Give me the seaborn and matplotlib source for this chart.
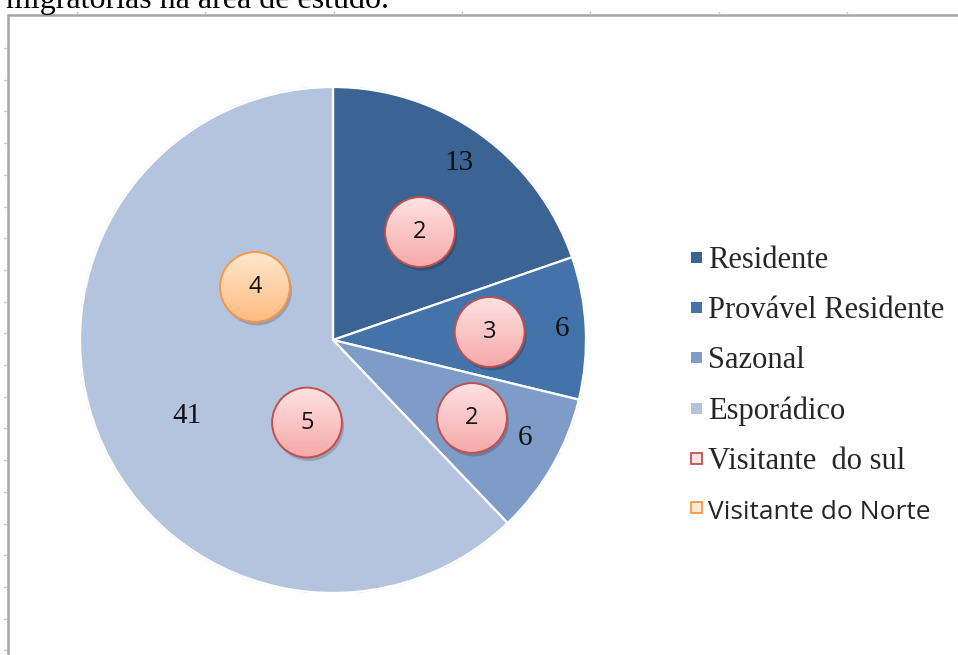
import numpy as np
import matplotlib
matplotlib.use("Agg")
import matplotlib.pyplot as plt
import seaborn as sns
from matplotlib.patches import Circle, Rectangle
from matplotlib.lines import Line2D
from matplotlib.legend_handler import HandlerPatch

sns.set_theme(style="white")
plt.rcParams['font.family'] = ['Liberation Serif', 'DejaVu Sans']

# ---- data ----
categories = ["Residente", "Provável Residente", "Sazonal", "Esporádico"]
counts = [13, 6, 6, 41]
slice_colors = ["#3B6393", "#4473AA", "#7F9CC9", "#B5C4DE"]
value_label_radius = [0.86, 0.905, 0.85, 0.65]
value_label_shift = [0.0, 0.0, 3.0, 5.6]   # degrees, within slice

visitor_types = ["Visitante  do sul", "Visitante do Norte"]
visitor_category = ["Residente", "Provável Residente", "Sazonal", "Esporádico", "Esporádico"]
visitor_type = [0, 0, 0, 0, 1]
visitor_counts = [2, 3, 2, 5, 4]
badge_radius_frac = [0.548, 0.62, 0.63, 0.342, 0.373]
badge_angle_shift = [-3.4, 0.2, 0.7, 50.7, -56.0]

badge_fill = [("#FFE2E2", "#F6A9A9"), ("#FFE8CF", "#FDBB80")]
badge_edge = ["#C0504D", "#F79646"]

title_text = "migratórias na área de estudo."

# ---- figure ----
W, H = 958, 655
fig = plt.figure(figsize=(W / 100, H / 100), dpi=100)

cx, cy, R = 333, 340, 253
ax = fig.add_axes([(cx - R) / W, (H - cy - R) / H, 2 * R / W, 2 * R / H])

wedges, _ = ax.pie(counts, colors=slice_colors, startangle=90, counterclock=False,
                   radius=1.0,
                   wedgeprops=dict(edgecolor="white", linewidth=1.6))
ax.set_aspect("equal")
ax.axis("off")

ring = Circle((0, 0), 1.0, fill=False, edgecolor="#D9DDE4", linewidth=1.6, zorder=0.5)
ax.add_patch(ring)
for w in wedges:
    w.set_clip_on(False)

def mid_angle(w):
    return 0.5 * (w.theta1 + w.theta2)

# value labels
for w, v, r, s in zip(wedges, counts, value_label_radius, value_label_shift):
    a = np.deg2rad(mid_angle(w) + s)
    ax.text(r * np.cos(a), r * np.sin(a), str(v), ha="center", va="center",
            fontsize=21, color="#111111", family=["Liberation Serif"])

# badges
br = 0.138
grad = np.linspace(0, 1, 256).reshape(-1, 1)
for cat, t, n, rf, sh in zip(visitor_category, visitor_type, visitor_counts,
                             badge_radius_frac, badge_angle_shift):
    w = wedges[categories.index(cat)]
    a = np.deg2rad(mid_angle(w) + sh)
    bx, by = rf * np.cos(a), rf * np.sin(a)
    ax.add_patch(Circle((bx + 0.008, by - 0.014), br, facecolor="#000000",
                        alpha=0.18, edgecolor="none", zorder=3))
    c_top = np.array(matplotlib.colors.to_rgb(badge_fill[t][0]))
    c_bot = np.array(matplotlib.colors.to_rgb(badge_fill[t][1]))
    img = c_top[None, None, :] * (1 - grad[:, :, None]) + c_bot[None, None, :] * grad[:, :, None]
    circ = Circle((bx, by), br, facecolor="none", edgecolor=badge_edge[t],
                  linewidth=1.4, zorder=5)
    ax.add_patch(circ)
    im = ax.imshow(img, extent=(bx - br, bx + br, by - br, by + br), origin="upper",
                   zorder=4, aspect="auto")
    im.set_clip_path(circ)
    ax.text(bx, by, str(n), ha="center", va="center", fontsize=17,
            family=["Open Sans"], color="#111111", zorder=6)
ax.set_xlim(-1, 1)
ax.set_ylim(-1, 1)

# ---- legend ----
handles = [Rectangle((0, 0), 1, 1, facecolor=c, edgecolor="none") for c in slice_colors]
handles += [Rectangle((0, 0), 1, 1, facecolor=badge_fill[i][0], edgecolor=badge_edge[i],
                      linewidth=1.3) for i in range(2)]
labels = categories + visitor_types

class SquareHandler(HandlerPatch):
    def create_artists(self, legend, orig_handle, xdescent, ydescent, width, height,
                       fontsize, trans):
        s = 9.5 if orig_handle.get_linewidth() < 0.5 else 11
        s = s * 0.72  # px -> pt
        p = Rectangle((width - s, (height - s) / 2 - ydescent), s, s,
                      facecolor=orig_handle.get_facecolor(),
                      edgecolor=orig_handle.get_edgecolor(),
                      linewidth=orig_handle.get_linewidth(), transform=trans)
        return [p]

leg = fig.legend(handles, labels, loc="upper left",
                 bbox_to_anchor=(673 / W, 1 - 231 / H), frameon=False,
                 fontsize=22, handlelength=0.45, handleheight=0.7,
                 handletextpad=0.2, labelspacing=0.69, borderpad=0,
                 handler_map={Rectangle: SquareHandler()})
txts = leg.get_texts()
txts[5].set_fontfamily(["Open Sans"])
txts[5].set_fontsize(19)

# ---- frame & cut-off title ----
fig.add_artist(Line2D([8 / W, 1.0], [1 - 15 / H, 1 - 15 / H], color="#A6A6A6", lw=1.8,
                      transform=fig.transFigure))
fig.add_artist(Line2D([8 / W, 8 / W], [0, 1 - 15 / H], color="#A6A6A6", lw=1.8,
                      transform=fig.transFigure))
for yy in np.arange(48, 655, 31.7):
    fig.add_artist(Line2D([4 / W, 6 / W], [1 - yy / H, 1 - yy / H], color="#C8C8C8", lw=1,
                          transform=fig.transFigure))
for xx in np.arange(77, 958, 128.3):
    fig.add_artist(Line2D([xx / W, xx / W], [1 - 12 / H, 1 - 14 / H], color="#C8C8C8", lw=1,
                          transform=fig.transFigure))
fig.text(6 / W, 1 - 8 / H, title_text, ha="left", va="baseline", fontsize=23,
         family=["Liberation Serif"], color="#000000")

fig.savefig("out.png", dpi=100, facecolor="white")
